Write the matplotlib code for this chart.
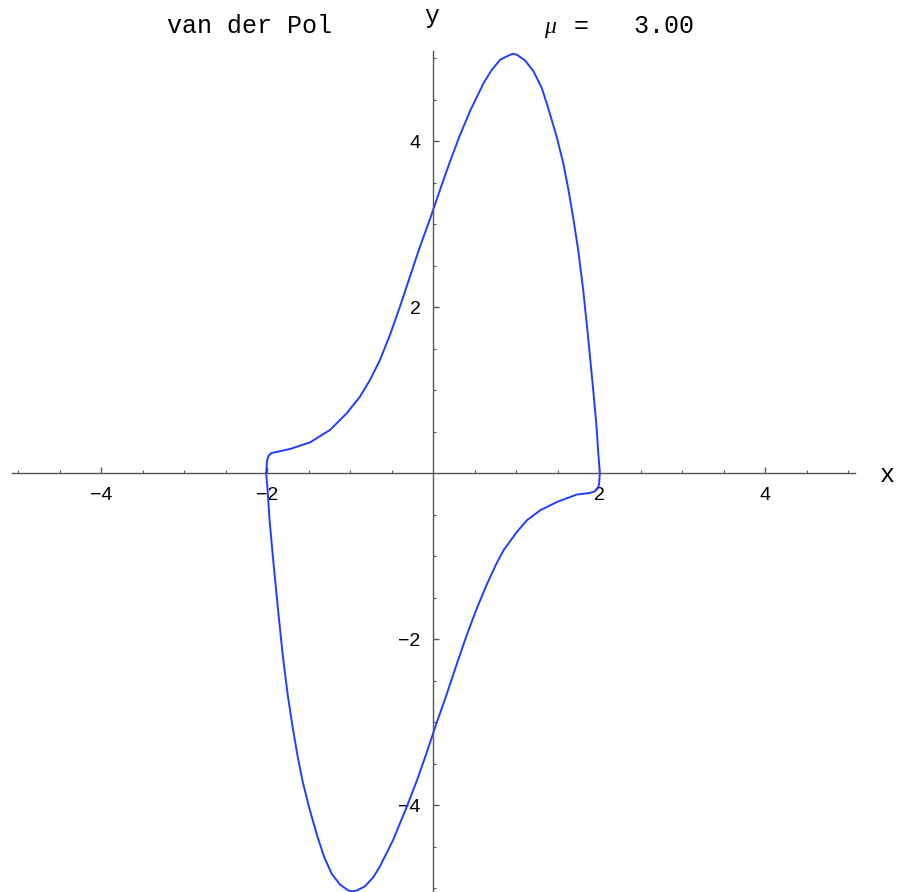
import numpy as np
import matplotlib.pyplot as plt

mu = 3.00

# limit cycle traced around the phase plane (x, y)
cycle_x = [-2.01, -2.00, -1.98, -1.95, -1.90, -1.72, -1.48, -1.24, -1.04, -0.88,
           -0.76, -0.64, -0.52, -0.40, -0.28, -0.16, -0.04, 0.08, 0.20, 0.32,
           0.45, 0.61, 0.71, 0.81, 0.91, 0.96, 1.01, 1.11, 1.21, 1.31,
           1.39, 1.49, 1.57, 1.63, 1.69, 1.75, 1.81, 1.87, 1.93, 1.97, 1.99,
           2.01, 2.00, 1.98, 1.95, 1.89, 1.73, 1.49, 1.29, 1.13, 1.01,
           0.85, 0.76, 0.64, 0.52, 0.40, 0.28, 0.16, 0.04, -0.08, -0.20,
           -0.32, -0.48, -0.64, -0.72, -0.82, -0.92, -0.97, -1.02, -1.12, -1.22,
           -1.31, -1.39, -1.49, -1.57, -1.63, -1.69, -1.75, -1.81, -1.87, -1.93, -1.97,
           -1.99, -2.01]
cycle_y = [0.00, 0.15, 0.21, 0.24, 0.25, 0.29, 0.37, 0.52, 0.72, 0.92,
           1.12, 1.36, 1.66, 2.00, 2.36, 2.72, 3.05, 3.40, 3.74, 4.06,
           4.37, 4.70, 4.86, 4.98, 5.03, 5.05, 5.04, 4.97, 4.84, 4.64,
           4.39, 4.05, 3.73, 3.42, 3.07, 2.68, 2.20, 1.62, 1.00, 0.56, 0.25,
           0.00, -0.14, -0.19, -0.22, -0.24, -0.26, -0.35, -0.45, -0.57, -0.71,
           -0.93, -1.10, -1.36, -1.65, -1.97, -2.32, -2.68, -3.02, -3.38, -3.72,
           -4.03, -4.42, -4.74, -4.87, -4.98, -5.03, -5.04, -5.03, -4.96, -4.83,
           -4.63, -4.39, -4.04, -3.72, -3.42, -3.07, -2.68, -2.20, -1.62, -1.00, -0.56,
           -0.25, 0.00]

major_ticks = [-4, -2, 2, 4]
minor_ticks = [-5, -4.5, -3.5, -3, -2.5, -1.5, -1, -0.5,
               0.5, 1, 1.5, 2.5, 3, 3.5, 4.5, 5]
tick_text = [f'{t}'.replace('-', '\u2212') for t in major_ticks]

mono = 'Liberation Mono'
axis_col = '#555555'

fig = plt.figure(figsize=(8.97, 8.92), dpi=100)
ax = fig.add_axes([0, 0, 1, 1])
ax.set_xlim(-5.217, 5.590)
ax.set_ylim(-5.048, 5.699)

ax.plot(cycle_x, cycle_y, color='#1f3fff', linewidth=1.4, solid_joinstyle='round')

# axes through the origin
for side in ['top', 'right']:
    ax.spines[side].set_visible(False)
ax.spines['bottom'].set_position(('data', 0))
ax.spines['left'].set_position(('data', 0))
ax.spines['bottom'].set_bounds(-5.07, 5.08)
ax.spines['left'].set_bounds(-5.05, 5.09)
for side in ['bottom', 'left']:
    ax.spines[side].set_color(axis_col)
    ax.spines[side].set_linewidth(1.0)

ax.set_xticks(major_ticks)
ax.set_xticklabels(tick_text)
ax.set_yticks(major_ticks)
ax.set_yticklabels(tick_text)
ax.set_xticks(minor_ticks, minor=True)
ax.set_yticks(minor_ticks, minor=True)
ax.tick_params(which='major', direction='in', length=4, width=1.0, color=axis_col,
               labelsize=14, labelfontfamily='Liberation Sans')
ax.tick_params(which='minor', direction='in', length=2.5, width=0.8, color=axis_col)
ax.tick_params(axis='x', which='major', pad=10)
ax.tick_params(axis='y', which='major', pad=9)
ax.patch.set_visible(False)

# axis names and header
ax.text(887 / 897, 1 - 482 / 892, 'x', transform=ax.transAxes, ha='center',
        va='baseline', fontsize=18, family=mono)
ax.text(432 / 897, 1 - 23 / 892, 'y', transform=ax.transAxes, ha='center',
        va='baseline', fontsize=18, family=mono)
ax.text(249 / 897, 1 - 33 / 892, 'van der Pol', transform=ax.transAxes, ha='center',
        va='baseline', fontsize=18, family=mono)
ax.text(550 / 897, 1 - 33 / 892, '\u03bc', transform=ax.transAxes, ha='center',
        va='baseline', fontsize=17, family='Liberation Serif', style='italic')
ax.text(574 / 897, 1 - 33 / 892, f'=   {mu:.2f}', transform=ax.transAxes, ha='left',
        va='baseline', fontsize=18, family=mono)

plt.savefig('out.png', dpi=100)
